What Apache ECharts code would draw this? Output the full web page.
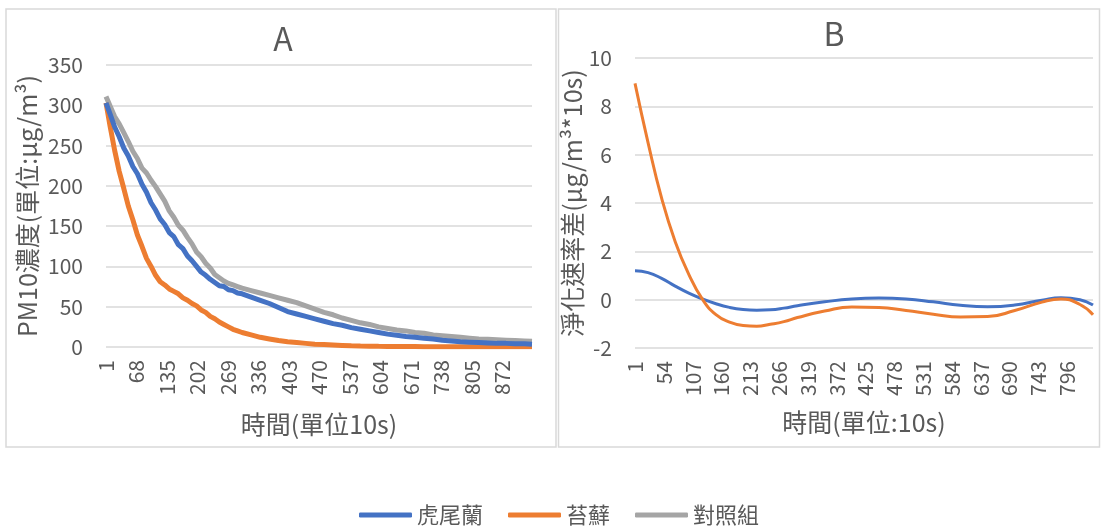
<!DOCTYPE html>
<html>
<head>
<meta charset="utf-8">
<script src="https://cdn.jsdelivr.net/npm/echarts@6/dist/echarts.min.js"></script>
<style>
  html, body { margin: 0; padding: 0; background: #ffffff; }
  #chart { width: 1102px; height: 528px; }
</style>
</head>
<body>
<div id="chart"></div>
<script>
// Panel A: PM10 concentration over time (time step, unit 10 s)
const timeA = [1, 10, 20, 30, 40, 50, 60, 70, 80, 90, 100, 110, 120, 130, 140, 150, 160, 170, 180, 190,
  200, 210, 220, 230, 240, 250, 260, 270, 280, 290, 300, 320, 340, 360, 380, 400, 420, 440, 460, 480,
  500, 520, 540, 560, 580, 600, 620, 640, 660, 680, 700, 720, 740, 760, 780, 800, 820, 840, 860, 880,
  900, 920, 937];
const tigerA = [303, 289, 273, 261, 247, 237, 224, 215, 202, 192, 179, 170, 159, 152, 142, 137, 127, 122, 113, 107,
  100, 93, 89, 84, 80, 76, 75, 71, 70, 67, 66, 62, 58, 54, 49, 44, 41, 38, 35, 32,
  29, 27, 24, 22, 20, 18, 16, 14.5, 13, 12, 11, 10, 8.5, 7.5, 6.5, 6, 5.5, 5, 4.5, 4.5,
  4, 4, 3.5];
const mossA = [303, 274, 244, 218, 197, 175, 158, 139, 125, 110, 100, 89, 81, 77, 72, 69, 66, 61, 58, 54,
  51, 46, 43, 38, 35, 31, 28, 25, 22, 20, 18, 15, 12, 10, 8, 6.5, 5.5, 4.5, 3.5, 3,
  2.5, 2, 1.5, 1.2, 1, 0.8, 0.7, 0.6, 0.5, 0.5, 0.4, 0.4, 0.4, 0.3, 0.3, 0.3, 0.3, 0.3, 0.3, 0.3,
  0.3, 0.3, 0.3];
const controlA = [311, 299, 286, 277, 266, 255, 243, 234, 222, 216, 207, 199, 190, 181, 169, 161, 151, 145, 136, 128,
  118, 112, 104, 98, 90, 86, 82, 79, 77, 75, 73, 70, 67, 64, 61, 58, 55, 51, 47, 43,
  40, 36, 33, 30, 28, 25, 23, 21, 20, 18, 17, 15, 14, 13, 12, 11, 10, 9.5, 9, 8.5,
  8, 7.5, 7];

// Panel B: difference in net purification rate
const timeB = [1, 25, 50, 75, 100, 125, 150, 175, 200, 225, 250, 275, 300, 350, 400, 450, 500, 550, 600, 650,
  700, 750, 785, 820, 844];
const tigerB = [1.2, 1.12, 0.88, 0.56, 0.27, 0.03, -0.17, -0.32, -0.41, -0.44, -0.42, -0.35, -0.25, -0.09, 0.03, 0.07, 0.03, -0.09, -0.23, -0.29,
  -0.22, -0.02, 0.08, 0.0, -0.22];
const mossB = [8.95, 6.5, 4.2, 2.4, 1.05, 0.02, -0.62, -0.93, -1.07, -1.1, -1.02, -0.91, -0.74, -0.47, -0.3, -0.32, -0.45, -0.6, -0.72, -0.7,
  -0.45, -0.1, 0.03, -0.2, -0.62];

const seriesNames = ['虎尾蘭', '苔蘚', '對照組'];
const seriesColors = ['#4472C4', '#ED7D31', '#A5A5A5'];
const yTicksA = { min: 0, max: 350, step: 50 };
const yTicksB = { min: -2, max: 10, step: 2 };
const xStepA = 67;   // label every 67 steps: 1, 68, 135 ...
const xStepB = 53;   // label every 53 steps: 1, 54, 107 ...
const lastStepA = 937;
const lastStepB = 844;

const FONT = "'Noto Sans CJK TC', 'Noto Sans', sans-serif";
const TEXT = '#595959';
const GRID = '#d9d9d9';

// x positions are stored as elapsed steps (t - 1) so ticks land on 1, 1+step, ...
const pairs = (ts, vs) => ts.map((t, i) => [t - 1, vs[i]]);

const xAxisCommon = (step, last, name, gap) => ({
  type: 'value',
  min: 0,
  max: last - 1,
  interval: step,
  name: name,
  nameLocation: 'middle',
  nameGap: gap,
  nameTextStyle: { fontFamily: FONT, fontSize: 25, color: TEXT },
  axisLine: { show: false },
  axisTick: { show: false },
  splitLine: { show: false },
  axisLabel: {
    rotate: 90,
    margin: 13,
    fontFamily: FONT,
    fontSize: 21,
    color: TEXT,
    showMaxLabel: false,
    formatter: v => (v % step === 0 ? String(v + 1) : '')
  }
});

const yAxisCommon = (ticks, name, gap) => ({
  type: 'value',
  min: ticks.min,
  max: ticks.max,
  interval: ticks.step,
  name: name,
  nameLocation: 'middle',
  nameGap: gap,
  nameTextStyle: { fontFamily: FONT, fontSize: 25, color: TEXT },
  axisLine: { show: false },
  axisTick: { show: false },
  axisLabel: { margin: 23, fontFamily: FONT, fontSize: 21, color: TEXT },
  splitLine: { show: true, lineStyle: { color: GRID, width: 1.5 } }
});

const lineA = (idx, vals) => ({
  name: seriesNames[idx],
  type: 'line',
  xAxisIndex: 0,
  yAxisIndex: 0,
  data: pairs(timeA, vals),
  showSymbol: false,
  symbol: 'none',
  color: seriesColors[idx],
  lineStyle: { width: 5, color: seriesColors[idx] },
  z: 3 - idx
});

const lineB = (idx, vals) => ({
  name: seriesNames[idx],
  type: 'line',
  xAxisIndex: 1,
  yAxisIndex: 1,
  data: pairs(timeB, vals),
  smooth: 0.5,
  showSymbol: false,
  symbol: 'none',
  color: seriesColors[idx],
  lineStyle: { width: 3, color: seriesColors[idx] }
});

const chart = echarts.init(document.getElementById('chart'), null, { renderer: 'canvas' });
chart.setOption({
  animation: false,
  backgroundColor: '#ffffff',
  graphic: [
    { type: 'rect', shape: { x: 6, y: 9, width: 550, height: 438 },
      style: { fill: 'none', stroke: GRID, lineWidth: 1.5 }, silent: true },
    { type: 'rect', shape: { x: 558.5, y: 9, width: 541, height: 438 },
      style: { fill: 'none', stroke: GRID, lineWidth: 1.5 }, silent: true }
  ],
  title: [
    { text: 'A', left: 283, top: 23, textAlign: 'center', padding: 0,
      textStyle: { fontFamily: FONT, fontSize: 32, fontWeight: 'normal', color: TEXT } },
    { text: 'B', left: 834, top: 18, textAlign: 'center', padding: 0,
      textStyle: { fontFamily: FONT, fontSize: 32, fontWeight: 'normal', color: TEXT } }
  ],
  legend: {
    data: seriesNames,
    left: 354,
    top: 499,
    icon: 'roundRect',
    itemWidth: 53,
    itemHeight: 5,
    itemGap: 25,
    textStyle: { fontFamily: FONT, fontSize: 22, color: TEXT }
  },
  grid: [
    { left: 106, top: 65, width: 426, height: 282 },
    { left: 635, top: 58, width: 458, height: 290 }
  ],
  xAxis: [
    Object.assign(xAxisCommon(xStepA, lastStepA, '時間(單位10s)', 65), { gridIndex: 0 }),
    Object.assign(xAxisCommon(xStepB, lastStepB, '時間(單位:10s)', 62), { gridIndex: 1 })
  ],
  yAxis: [
    Object.assign(yAxisCommon(yTicksA, 'PM10濃度(單位:μg/m³)', 66), { gridIndex: 0 }),
    Object.assign(yAxisCommon(yTicksB, '淨化速率差(μg/m³*10s)', 44), { gridIndex: 1 })
  ],
  series: [
    lineA(0, tigerA),
    lineA(1, mossA),
    lineA(2, controlA),
    lineB(0, tigerB),
    lineB(1, mossB)
  ]
});
</script>
</body>
</html>
